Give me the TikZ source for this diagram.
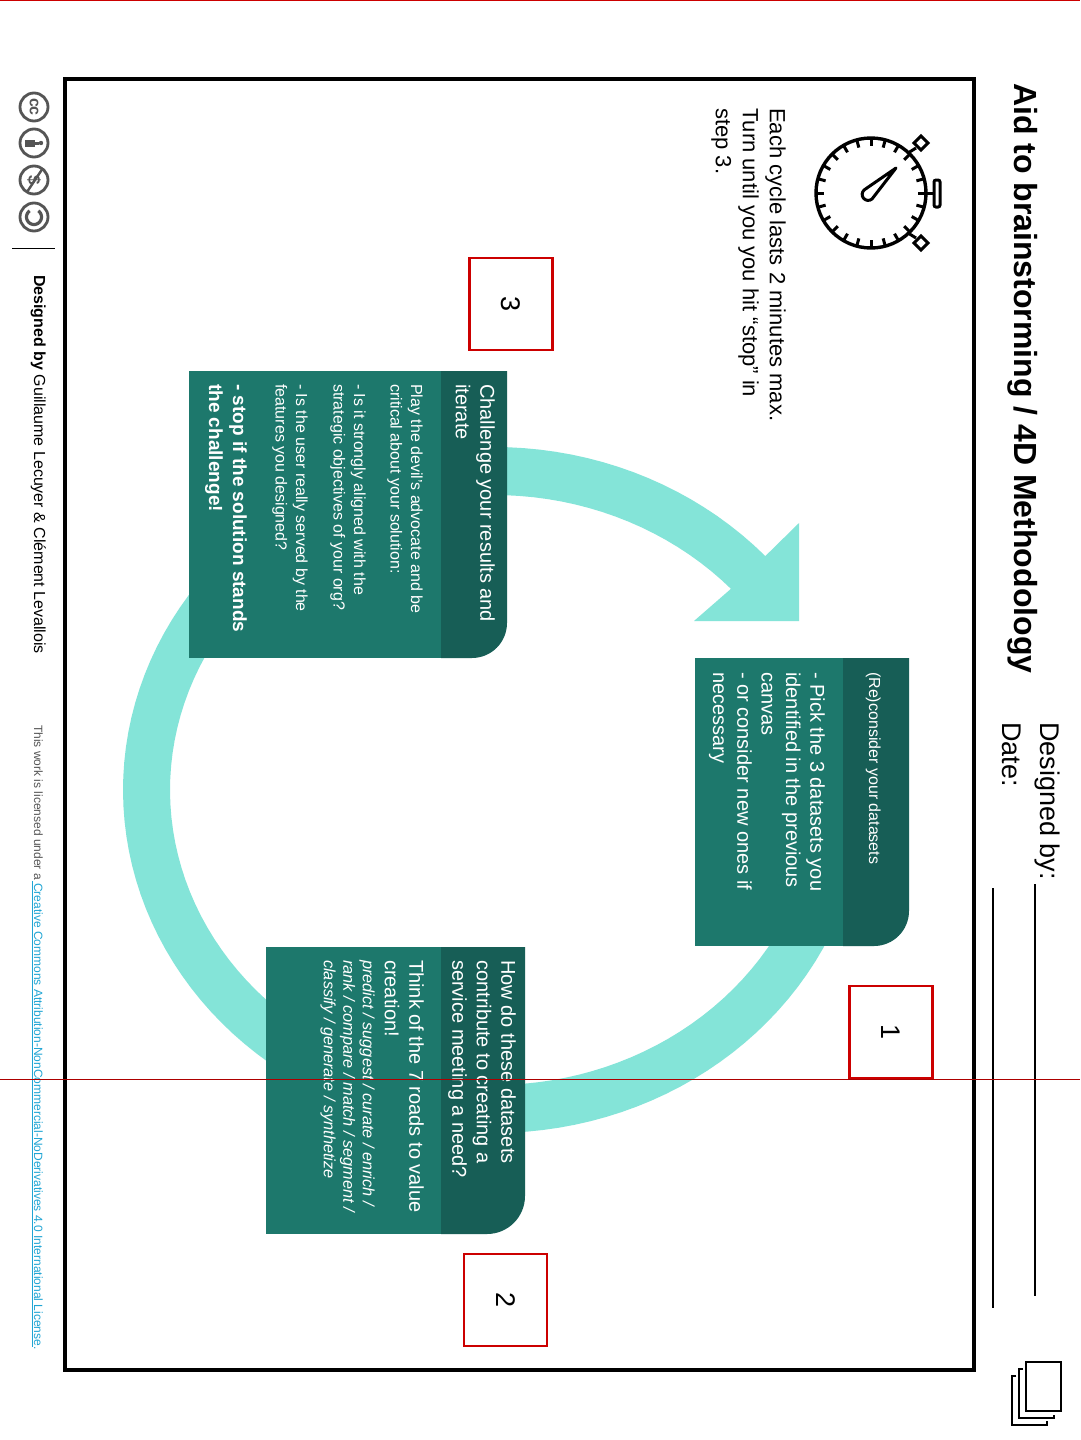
\documentclass[tikz,border=0pt]{standalone}
\usepackage{fontspec}
\setmainfont{Liberation Sans}
\definecolor{headteal}{HTML}{175E56}
\definecolor{bodyteal}{HTML}{1D786C}
\definecolor{ringteal}{HTML}{84E4D8}
\definecolor{numred}{HTML}{CC0000}
\definecolor{linkblue}{HTML}{1FA5D4}
\definecolor{ccgrey}{HTML}{555555}
\tikzset{
  rtext/.style={rotate=-90,anchor=north west,inner sep=0pt,align=left,font=\fontsize{#1}{#1}\selectfont},
  boxtext/.style={rtext=#1,text=white},
  numbox/.style={draw=numred,line width=2.5pt,fill=white,rotate=-90,font=\fontsize{27}{27}\selectfont},
  ccring/.style={draw=ccgrey,line width=2.8pt},
  watchline/.style={line width=3pt},
}
\begin{document}
\begin{tikzpicture}[x=1pt,y=-1pt]
\useasboundingbox (0,0) rectangle (1080,1440);
\fill[white] (0,0) rectangle (1080,1440);
% Frame
\draw[line width=4.5pt] (65,79) rectangle (974,1370);
% Ring with arrow head
\fill[ringteal] plot[domain=43:340,samples=120] ({494+371*cos(\x)},{790-343*sin(\x)})
  -- plot[domain=340:43,samples=120] ({494+324*cos(\x)},{790-295*sin(\x)})
  -- (694,621) -- (799,621) -- (799,523) -- cycle;
% Box 3
\fill[bodyteal] (189,371) rectangle (441,658);
\fill[headteal] (441,371) -- (507,371) [rounded corners=35pt] -- (507,658) [sharp corners] -- (441,658) -- cycle;
% Box 2
\fill[bodyteal] (266,947) rectangle (441,1234);
\fill[headteal] (441,947) -- (525,947) [rounded corners=38pt] -- (525,1234) [sharp corners] -- (441,1234) -- cycle;
% Box 1
\fill[bodyteal] (695,658) rectangle (843,946);
\fill[headteal] (843,658) -- (909,658) [rounded corners=35pt] -- (909,946) [sharp corners] -- (843,946) -- cycle;
% Title and header
\node[rtext=32,font=\fontsize{32}{32}\selectfont\bfseries] (title) at (1038,83) {Aid to brainstorming / 4D Methodology};
\node[rtext=27] (designedby) at (1060,722) {Designed by:};
\node[rtext=27] (datelabel) at (1021,722) {Date:};
\draw[line width=1.3pt] (1035,884) -- (1035,1296);
\draw[line width=1.3pt] (993,888) -- (993,1308);
% Timer text
\node[rtext=22,font=\fontsize{22}{27}\selectfont] (cycletext) at (786,108) {Each cycle lasts 2 minutes max.\\Turn until you you hit “stop” in\\step 3.};
% Stopwatch
\draw[line width=3.4pt] (871,193) circle (55);
\foreach \a in {0,15,...,345}
  \draw[watchline] ({871+55*cos(\a)},{193+55*sin(\a)}) -- ({871+47*cos(\a)},{193+47*sin(\a)});
\draw[watchline] (908,153) -- (916,148);
\draw[watchline] (908,233) -- (916,238);
\draw[watchline,rotate around={45:(921,143)}] (916,138) rectangle (926,148);
\draw[watchline,rotate around={45:(921,243)}] (916,238) rectangle (926,248);
\draw[watchline] (926,193) -- (934,193);
\draw[watchline,rounded corners=2pt] (934,180) rectangle (940,207);
\draw[line width=3pt,line join=round] (896,168) -- (872,199) arc[start angle=50,end angle=230,radius=6] -- cycle;
% Box 3 text
\node[boxtext=20,font=\fontsize{20}{24.5}\selectfont] (headthree) at (495,384) {Challenge your results and\\iterate};
\node[boxtext=16,font=\fontsize{16}{20.5}\selectfont] (playtext) at (423,384) {Play the devil’s advocate and be\\critical about your solution:};
\node[boxtext=16,font=\fontsize{16}{20.5}\selectfont] (strongtext) at (366,384) {- Is it strongly aligned with the\\strategic objectives of your org?};
\node[boxtext=16,font=\fontsize{16}{20.5}\selectfont] (usertext) at (308,384) {- Is the user really served by the\\features you designed?};
\node[boxtext=19,font=\fontsize{19}{24}\selectfont\bfseries] (stoptext) at (247,384) {- stop if the solution stands\\the challenge!};
% Box 2 text
\node[boxtext=20,font=\fontsize{20}{24.5}\selectfont] (headtwo) at (516,960) {How do these datasets\\contribute to creating a\\service meeting a need?};
\node[boxtext=20,font=\fontsize{20}{24.5}\selectfont] (roadstext) at (424,960) {Think of the 7 roads to value\\creation!};
\node[boxtext=16,font=\fontsize{16.3}{19.5}\selectfont\itshape] (verbstext) at (375,960) {predict / suggest / curate / enrich /\\rank / compare / match / segment /\\classify / generate / synthetize};
% Box 1 text
\node[boxtext=16] (headone) at (881,672) {(Re)consider your datasets};
\node[boxtext=20,font=\fontsize{20}{24.3}\selectfont] (picktext) at (825,672) {- Pick the 3 datasets you\\identified in the previous\\canvas\\- or consider new ones if\\necessary};
% Number boxes
\node[numbox,minimum width=92pt,minimum height=83pt] (numthree) at (511,304) {3};
\node[numbox,minimum width=92pt,minimum height=83pt] (numone) at (891,1032) {1};
\node[numbox,minimum width=92pt,minimum height=83pt] (numtwo) at (505.5,1300) {2};
% Stack icon
\draw[line width=1.6pt] (1026,1362) rectangle (1061,1411);
\draw[line width=1.6pt] (1023,1369) -- (1019,1369) -- (1019,1418) -- (1054,1418) -- (1054,1415);
\draw[line width=1.6pt] (1016,1376) -- (1012,1376) -- (1012,1425) -- (1047,1425) -- (1047,1421);
% Footer
\draw[line width=1pt] (12,248) -- (55,248);
\node[rtext=16] (designer) at (46,275) {\textbf{Designed by} Guillaume Lecuyer \& Clément Levallois};
\node[rtext=12,text=ccgrey] (license) at (43,725) {This work is licensed under a \textcolor{linkblue}{Creative Commons Attribution-NonCommercial-NoDerivatives 4.0 International License.}};
\draw[linkblue,line width=0.8pt] (32,881) -- (32,1347);
% CC icons
\foreach \y/\n in {107/a,143/b,180/c,217/d}
  \node[ccring,circle,minimum size=28pt,inner sep=0pt] (cc\n) at (34,\y) {};
\node[rotate=-90,inner sep=0pt,text=ccgrey,font=\fontsize{16}{16}\selectfont\bfseries] (cctext) at (cca) {cc};
\fill[ccgrey] (41,143) circle (2.2);
\fill[ccgrey] (25,139.5) rectangle (35,146.5);
\fill[ccgrey] (35,141.5) rectangle (39,144.5);
\node[rotate=-90,inner sep=0pt,text=ccgrey,font=\fontsize{17}{17}\selectfont\bfseries] (dollartext) at (ccc) {\$};
\draw[ccgrey,line width=2.4pt] (27,192) -- (43,168);
\draw[ccgrey,line width=3.2pt] plot[domain=125:415,samples=40] ({34+7.5*cos(\x)},{217-7.5*sin(\x)});
% Red lines
\draw[numred,line width=0.7pt] (0,0.4) -- (1080,0.4);
\draw[numred!85!black,line width=0.7pt] (0,1079.5) -- (1080,1079.5);
\end{tikzpicture}
\end{document}
